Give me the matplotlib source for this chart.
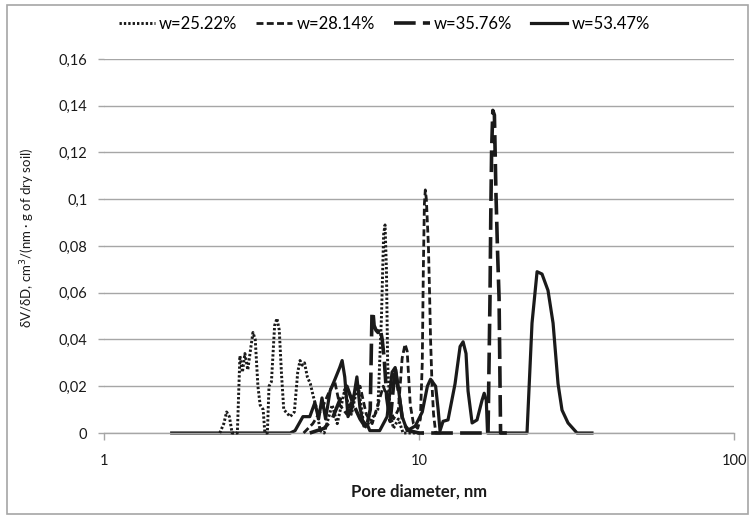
import matplotlib
matplotlib.use("Agg")
import matplotlib.pyplot as plt
from matplotlib.patches import Rectangle
from matplotlib.ticker import FixedLocator, FuncFormatter, NullLocator

plt.rcParams['font.family'] = ['Lato', 'DejaVu Sans']

# Pore size distributions (pore diameter in nm, dV/dD)
d_w2522 = [2.33, 2.40, 2.45, 2.50, 2.55, 2.65, 2.70, 2.75, 2.80, 2.86, 2.92, 2.97, 3.02, 3.08,
           3.13, 3.20, 3.24, 3.30, 3.34, 3.40, 3.48, 3.54, 3.60, 3.66, 3.72, 3.78, 3.90, 4.02,
           4.12, 4.19, 4.26, 4.33, 4.42, 4.52, 4.61, 4.74, 4.85, 5.0, 5.3, 5.5, 5.8, 6.1, 6.4,
           6.7, 7.0, 7.4, 7.6, 7.72, 7.80, 7.88, 7.95, 8.1, 8.3, 8.6, 8.9, 9.5, 10.5]
v_w2522 = [0.0, 0.004, 0.009, 0.007, 0.0, 0.0, 0.033, 0.026, 0.034, 0.027, 0.036, 0.043, 0.040, 0.020,
           0.012, 0.010, 0.0, 0.0, 0.020, 0.022, 0.046, 0.049, 0.044, 0.025, 0.010, 0.009, 0.007, 0.009,
           0.026, 0.031, 0.029, 0.030, 0.024, 0.021, 0.016, 0.010, 0.001, 0.0, 0.012, 0.004, 0.018, 0.008, 0.021,
           0.002, 0.005, 0.010, 0.050, 0.085, 0.089, 0.070, 0.030, 0.008, 0.002, 0.006, 0.0, 0.0, 0.0]

d_w2814 = [4.3, 4.6, 4.9, 5.2, 5.4, 5.6, 5.9, 6.2, 6.5, 6.8, 7.1, 7.4, 7.7, 8.0, 8.3, 8.6, 8.84,
           9.03, 9.17, 9.38, 9.6, 9.9, 10.1, 10.24, 10.32, 10.40, 10.47, 10.55, 10.71, 10.80, 10.88,
           11.0, 11.12, 11.3, 12.0]
v_w2814 = [0.0, 0.004, 0.010, 0.018, 0.022, 0.012, 0.008, 0.016, 0.020, 0.008, 0.004, 0.012, 0.020,
           0.014, 0.006, 0.010, 0.032, 0.038, 0.035, 0.012, 0.004, 0.002, 0.006, 0.030, 0.070, 0.098,
           0.104, 0.100, 0.080, 0.060, 0.040, 0.020, 0.008, 0.0, 0.0]

d_w3576 = [4.5, 5.0, 5.3, 5.6, 5.9, 6.2, 6.5, 6.8, 7.0, 7.09, 7.14, 7.2, 7.3, 7.41, 7.52, 7.64, 7.75,
           7.9, 8.1, 8.4, 8.6, 8.9, 9.3, 10.0, 12.0, 16.0, 16.56, 16.8, 16.9, 17.0, 17.15, 17.35,
           17.55, 17.62, 17.75, 17.95, 18.15, 19.0]
v_w3576 = [0.0, 0.002, 0.006, 0.014, 0.020, 0.012, 0.006, 0.002, 0.010, 0.051, 0.052, 0.046, 0.044,
           0.043, 0.045, 0.040, 0.032, 0.015, 0.005, 0.028, 0.018, 0.004, 0.001, 0.0, 0.0, 0.0, 0.0,
           0.058, 0.094, 0.121, 0.138, 0.136, 0.102, 0.094, 0.078, 0.058, 0.0, 0.0]

d_w5347 = [1.64, 3.9, 4.04, 4.28, 4.5, 4.67, 4.8, 4.92, 5.05, 5.22, 5.41, 5.6, 5.70, 5.81, 5.95,
           6.13, 6.35, 6.49, 6.63, 6.88, 6.98, 7.5, 7.92, 8.21, 8.40, 8.58, 8.84, 9.17, 9.73, 10.24,
           10.63, 10.88, 11.29, 11.5, 11.66, 11.92, 12.36, 13.01, 13.5, 13.8, 14.1, 14.31, 14.74,
           15.28, 15.85, 16.1, 16.35, 16.5, 22.02, 22.84, 23.7, 24.57, 25.67, 26.64, 27.63, 28.44,
           29.72, 31.74, 35.4]
v_w5347 = [0.0, 0.0, 0.001, 0.007, 0.007, 0.013, 0.006, 0.015, 0.006, 0.018, 0.023, 0.028, 0.031,
           0.024, 0.007, 0.011, 0.024, 0.011, 0.005, 0.003, 0.001, 0.001, 0.007, 0.026, 0.028, 0.020,
           0.007, 0.001, 0.003, 0.009, 0.020, 0.023, 0.020, 0.010, 0.001, 0.005, 0.0056, 0.021, 0.037,
           0.039, 0.034, 0.018, 0.0043, 0.0056, 0.014, 0.017, 0.014, 0.0, 0.0, 0.047, 0.069, 0.068,
           0.061, 0.047, 0.021, 0.0098, 0.0043, 0.0, 0.0]

labels = ["w=25.22%", "w=28.14%", "w=35.76%", "w=53.47%"]
yticks = [0, 0.02, 0.04, 0.06, 0.08, 0.1, 0.12, 0.14, 0.16]
xticks = [1, 10, 100]

ink = "#1a1a1a"
grid = "#a6a6a6"

fig = plt.figure(figsize=(7.49, 5.21), dpi=100)
ax = fig.add_axes([0.1389, 0.1689, 0.8411, 0.7179])

ax.plot(d_w5347, v_w5347, color=ink, lw=2.3, ls='-', label=labels[3], zorder=2, clip_on=False)
ax.plot(d_w2522, v_w2522, color=ink, lw=2.1, ls=(0, (0.8, 0.7)), label=labels[0], zorder=3, clip_on=False)
ax.plot(d_w2814, v_w2814, color=ink, lw=2.0, ls=(0, (2.5, 1.2)), label=labels[1], zorder=3, clip_on=False)
ax.plot(d_w3576, v_w3576, color=ink, lw=2.6, ls=(0, (6, 2)), label=labels[2], zorder=3, clip_on=False)

ax.set_xscale('log')
ax.set_xlim(1, 100)
ax.set_ylim(0, 0.16)
ax.xaxis.set_major_locator(FixedLocator(xticks))
ax.xaxis.set_minor_locator(NullLocator())
ax.xaxis.set_major_formatter(FuncFormatter(lambda v, p: f"{v:g}"))
ax.yaxis.set_major_locator(FixedLocator(yticks))
ax.yaxis.set_major_formatter(FuncFormatter(lambda v, p: f"{v:g}".replace('.', ',')))

ax.grid(axis='y', color=grid, lw=1.0)
ax.set_axisbelow(True)
for s in ['top', 'right', 'left']:
    ax.spines[s].set_visible(False)
ax.spines['bottom'].set_color(grid)
ax.spines['bottom'].set_linewidth(1.0)
ax.tick_params(axis='x', direction='out', length=5, color=grid, width=1.0,
               labelsize=10.5, labelcolor='#1a1a1a', pad=10)
ax.tick_params(axis='y', direction='out', length=4, color=grid, width=1.0,
               labelsize=10.5, labelcolor='#1a1a1a', pad=8)

ax.set_xlabel("Pore diameter, nm", fontsize=12, fontweight='bold', labelpad=11, color='#1a1a1a')
ax.set_ylabel(r"δV/δD, cm$^3$/(nm · g of dry soil)", fontsize=9.5, color='#1a1a1a')
ax.yaxis.set_label_coords(-0.106, 0.523)

handles, labs = ax.get_legend_handles_labels()
order = [labs.index(l) for l in labels]
fig.legend([handles[i] for i in order], labels, loc='center',
           bbox_to_anchor=(0.513, 1 - 24 / 521), ncol=4, frameon=False,
           fontsize=12, handlelength=2.15, columnspacing=1.15, handletextpad=0.25)

fig.patches.append(Rectangle((7 / 749, 1 - 514 / 521), 741 / 749, 509 / 521,
                             transform=fig.transFigure, fill=False, edgecolor=grid, lw=1.2))

fig.savefig("out.png", dpi=100)
